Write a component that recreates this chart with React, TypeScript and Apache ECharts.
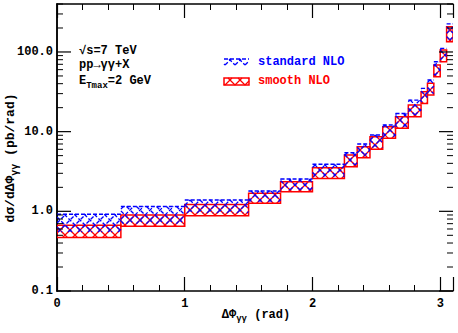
import React, { useEffect, useRef } from "react";
import * as echarts from "echarts";

// Bin edges in ΔΦγγ (rad)
const binEdges = [0, 0.5, 1.0, 1.5, 1.75, 2.0, 2.25, 2.35, 2.45, 2.55, 2.65, 2.75, 2.85, 2.9, 2.95, 3.0, 3.05, 3.1];
// standard NLO band (pb/rad)
const stdLow = [0.55, 0.7, 0.95, 1.32, 1.85, 2.72, 3.8, 4.95, 6.3, 8.6, 11.5, 16.2, 23.5, 30, 51, 79, 140];
const stdHigh = [0.92, 1.15, 1.39, 1.8, 2.54, 3.89, 5.44, 6.99, 9.06, 12.1, 16.9, 24.9, 34.9, 44.4, 75.4, 111, 225];
// smooth NLO band (pb/rad)
const smLow = [0.47, 0.65, 0.88, 1.26, 1.76, 2.59, 3.63, 4.71, 6.0, 8.24, 11.0, 15.4, 22.6, 28.8, 48.9, 75.4, 134];
const smHigh = [0.67, 0.9, 1.22, 1.68, 2.35, 3.52, 5.09, 6.47, 8.63, 11.5, 15.4, 21.6, 31.7, 40.4, 68.5, 106, 207];

const xMin = 0;
const xMax = 3.1;
const yMin = 0.1;
const yMax = 400;
const yMajor = [0.1, 1, 10, 100];
const yMinor = [0.2, 0.3, 0.4, 0.5, 0.6, 0.7, 0.8, 0.9, 2, 3, 4, 5, 6, 7, 8, 9, 20, 30, 40, 50, 60, 70, 80, 90, 200, 300, 400];

const BLUE = "#0000ff";
const RED = "#ff0000";
const TXT_FONT = "Liberation Mono";
const TICK_FONT = "Liberation Mono";

function hatchSegs(x0: number, y0: number, x1: number, y1: number, s: number) {
  const segs: number[][] = [];
  const xa = Math.min(x0, x1), xb = Math.max(x0, x1);
  const ya = Math.min(y0, y1), yb = Math.max(y0, y1);
  for (let k = Math.floor((xa + ya) / s); k * s <= xb + yb; k++) {
    const c = k * s;
    const lo = Math.max(xa, c - yb), hi = Math.min(xb, c - ya);
    if (hi - lo > 0.3) segs.push([lo, c - lo, hi, c - hi]);
  }
  for (let k = Math.floor((xa - yb) / s); k * s <= xb - ya; k++) {
    const c = k * s;
    const lo = Math.max(xa, c + ya), hi = Math.min(xb, c + yb);
    if (hi - lo > 0.3) segs.push([lo, lo - c, hi, hi - c]);
  }
  return segs;
}

function bandChildren(x0: number, y0: number, x1: number, y1: number, color: string, dashed: boolean) {
  const children: any[] = hatchSegs(x0, y0, x1, y1, 10).map((sg) => ({
    type: "line",
    shape: { x1: sg[0], y1: sg[1], x2: sg[2], y2: sg[3] },
    style: { stroke: color, lineWidth: 1.3, lineDash: dashed ? [4, 2] : null },
  }));
  if (dashed) {
    children.push({
      type: "line",
      shape: { x1: x0, y1: y0, x2: x1, y2: y0 },
      style: { stroke: color, lineWidth: 1.4, lineDash: [4, 2] },
    });
  } else {
    children.push({
      type: "rect",
      shape: { x: x0, y: y0, width: x1 - x0, height: y1 - y0 },
      style: { fill: "none", stroke: color, lineWidth: 1.5 },
    });
  }
  return children;
}

const makeBandRender = (color: string, dashed: boolean) => (params: any, api: any) => {
  const p0 = api.coord([api.value(0), api.value(3)]);
  const p1 = api.coord([api.value(1), api.value(2)]);
  return { type: "group", children: bandChildren(p0[0], p0[1], p1[0], p1[1], color, dashed) };
};

const richText = (size: number, sub: number, subPad: number) => ({
  a: { fontFamily: TXT_FONT, fontWeight: "bold", fontSize: size, fill: "#000", lineHeight: size + 3, verticalAlign: "top" },
  s: { fontFamily: TXT_FONT, fontWeight: "bold", fontSize: sub, fill: "#000", lineHeight: size + 3, padding: [subPad, 0, 0, 0], verticalAlign: "top" },
});

export default function App() {
  const ref = useRef<HTMLDivElement>(null);
  useEffect(() => {
    if (!ref.current) return;
    const chart = echarts.init(ref.current, null, { renderer: "svg" });

    const stdData = stdLow.map((v, i) => [binEdges[i], binEdges[i + 1], v, stdHigh[i]]);
    const smData = smLow.map((v, i) => [binEdges[i], binEdges[i + 1], v, smHigh[i]]);
    const tickData = [...yMajor.map((v) => [0, v, 14]), ...yMinor.map((v) => [0, v, 6])];

    const xAxisBase: any = {
      type: "value",
      min: xMin,
      max: xMax,
      interval: 1,
      axisLine: { show: true, onZero: false, lineStyle: { color: "#000", width: 1.5 } },
      axisTick: { show: true, inside: true, length: 14, lineStyle: { color: "#000", width: 1.2 } },
      minorTick: { show: true, splitNumber: 5, length: 6, lineStyle: { color: "#000", width: 1 } },
      splitLine: { show: false },
      minorSplitLine: { show: false },
    };

    const legendBlue = bandChildren(224, 59, 249, 65, BLUE, true);
    const legendRed = bandChildren(224, 78, 249, 85, RED, false);

    chart.setOption({
      animation: false,
      backgroundColor: "#fff",
      grid: { left: 57, right: 5, top: 4, bottom: 42, containLabel: false },
      xAxis: [
        {
          ...xAxisBase,
          position: "bottom",
          axisLabel: {
            color: "#000",
            fontFamily: TICK_FONT,
            fontWeight: "bold",
            fontSize: 12,
            margin: 7,
            showMaxLabel: false,
            formatter: (v: number) => String(v),
          },
        },
        { ...xAxisBase, position: "top", axisLabel: { show: false } },
      ],
      yAxis: [
        {
          type: "log",
          logBase: 10,
          min: yMin,
          max: yMax,
          position: "left",
          axisLine: { show: true, lineStyle: { color: "#000", width: 1.5 } },
          axisTick: { show: false },
          splitLine: { show: false },
          axisLabel: {
            color: "#000",
            fontFamily: TICK_FONT,
            fontWeight: "bold",
            fontSize: 12,
            margin: 4,
            showMaxLabel: false,
            formatter: (v: number) => {
              const lg = Math.log10(v);
              return Math.abs(lg - Math.round(lg)) < 1e-6 && v < 300 ? v.toFixed(1) : "";
            },
          },
        },
        {
          type: "log",
          logBase: 10,
          min: yMin,
          max: yMax,
          position: "right",
          axisLine: { show: true, lineStyle: { color: "#000", width: 1.5 } },
          axisTick: { show: false },
          splitLine: { show: false },
          axisLabel: { show: false },
        },
      ],
      series: [
        {
          type: "custom",
          name: "smooth NLO",
          renderItem: makeBandRender(RED, false),
          data: smData,
          encode: { x: [0, 1], y: [2, 3] },
          clip: true,
          z: 2,
        },
        {
          type: "custom",
          name: "standard NLO",
          renderItem: makeBandRender(BLUE, true),
          data: stdData,
          encode: { x: [0, 1], y: [2, 3] },
          clip: true,
          z: 3,
        },
        {
          type: "custom",
          name: "yticks",
          renderItem: (params: any, api: any) => {
            const cs = params.coordSys;
            const y = api.coord([0, api.value(1)])[1];
            const len = api.value(2);
            const st = { stroke: "#000", lineWidth: len > 10 ? 1.2 : 1 };
            return {
              type: "group",
              children: [
                { type: "line", shape: { x1: cs.x, y1: y, x2: cs.x + len, y2: y }, style: st },
                { type: "line", shape: { x1: cs.x + cs.width - len, y1: y, x2: cs.x + cs.width, y2: y }, style: st },
              ],
            };
          },
          data: tickData,
          encode: { x: 0, y: 1 },
          z: 5,
        },
      ],
      graphic: [
        {
          type: "text",
          left: 79,
          top: 45,
          style: { text: "√s=7 TeV", fontFamily: TXT_FONT, fontWeight: "bold", fontSize: 12, fill: "#000" },
        },
        {
          type: "text",
          left: 79,
          top: 59,
          style: { text: "pp→γγ+X", fontFamily: TXT_FONT, fontWeight: "bold", fontSize: 12, fill: "#000" },
        },
        {
          type: "text",
          left: 79,
          top: 75,
          style: { text: "{a|E}{s|Tmax}{a|=2 GeV}", rich: richText(12, 9, 6) },
        },
        {
          type: "text",
          left: 258,
          top: 56,
          style: { text: "standard NLO", fontFamily: TXT_FONT, fontWeight: "bold", fontSize: 12, fill: BLUE },
        },
        {
          type: "text",
          left: 258,
          top: 75,
          style: { text: "smooth NLO", fontFamily: TXT_FONT, fontWeight: "bold", fontSize: 12, fill: RED },
        },
        ...legendBlue,
        ...legendRed,
        {
          type: "text",
          x: 256,
          y: 316,
          style: {
            text: "{a|ΔΦ}{s|γγ}{a| (rad)}",
            align: "center",
            verticalAlign: "middle",
            rich: richText(12, 9, 6),
          },
        },
        {
          type: "text",
          x: 12,
          y: 158,
          rotation: Math.PI / 2,
          style: {
            text: "{a|dσ/dΔΦ}{s|γγ}{a| (pb/rad)}",
            align: "center",
            verticalAlign: "middle",
            rich: richText(13, 10, 6),
          },
        },
      ],
    });
    return () => chart.dispose();
  }, []);
  return <div ref={ref} style={{ width: 458, height: 333, position: "absolute", left: 0, top: 0 }} />;
}
